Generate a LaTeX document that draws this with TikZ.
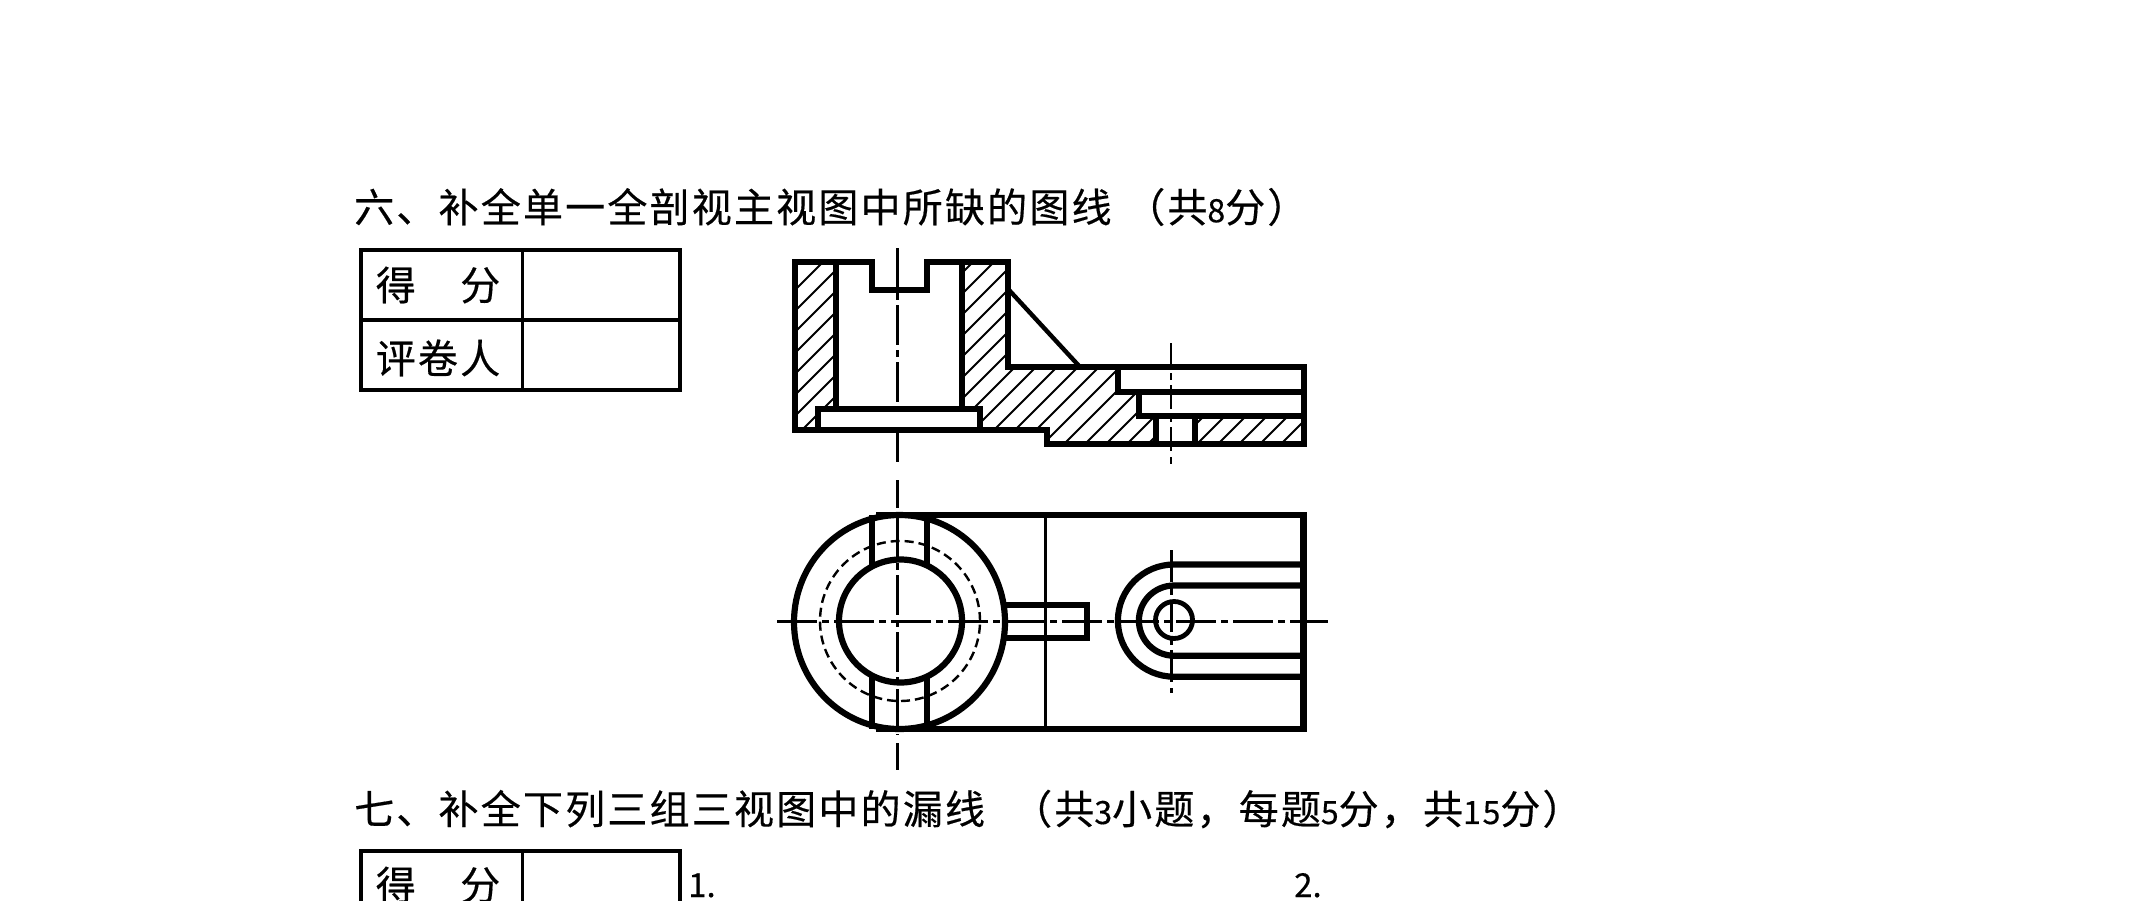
\documentclass[tikz,border=0pt]{standalone}
\usepackage{fontspec}
\newfontfamily\cjkt[LetterSpace=5.5,FakeBold=0.4]{Noto Sans CJK SC}
\newfontfamily\cjkn[FakeBold=0.4]{Noto Sans CJK SC}
\newcommand{\dgt}[1]{{\fontsize{32}{48}\selectfont #1}}
\tikzset{
  thick line/.style={line width=6.2pt,line join=miter,line cap=butt},
  mid line/.style={line width=3.4pt},
  hatch line/.style={line width=2pt},
  center line/.style={line width=2.8pt,dash pattern=on 40pt off 5pt on 7pt off 5pt},
  hidden line/.style={line width=2.4pt,dash pattern=on 9pt off 5pt},
  title text/.style={anchor=west,inner sep=0pt,font=\cjkt\fontsize{40}{48}\selectfont},
  cell text/.style={anchor=center,inner sep=0pt,font=\cjkt\fontsize{40}{48}\selectfont},
  num text/.style={anchor=base west,inner sep=0pt,font=\cjkn\fontsize{33}{40}\selectfont}
}
\begin{document}
\begin{tikzpicture}[x=1pt,y=-1pt]
\clip (0,0) rectangle (2149,900);
\fill[white] (0,0) rectangle (2149,900);

% titles
\node[title text] (t6) at (354,207) {六、补全单一全剖视主视图中所缺的图线 \hspace{2.5pt}（共\dgt{8}分）};
\node[title text] (t7) at (354,809) {七、补全下列三组三视图中的漏线 \hspace{16pt}（共\dgt{3}小题，每题\dgt{5}分，共\dgt{15}分）};

% score tables
\draw[mid line] (361,250) rectangle (680,390);
\draw[mid line] (361,320) -- (680,320);
\draw[mid line] (522.5,250) -- (522.5,390);
\node[cell text] (s1) at (438,285) {得　分};
\node[cell text] (r1) at (438,358) {评卷人};
\draw[mid line] (361,851) rectangle (680,960);
\draw[mid line] (522.5,851) -- (522.5,960);
\node[cell text] (s2) at (438,885) {得　分};
\node[num text] (n1) at (688,897) {1.};
\node[num text] (n2) at (1294,897) {2.};

% hatching of the section
\begin{scope}
\clip (795,262) -- (836,262) -- (836,409) -- (818,409) -- (818,430) -- (795,430) -- cycle;
\foreach \k in {0,...,14} \draw[hatch line] ({640+21*\k},445) -- ++(200,-200);
\end{scope}
\begin{scope}
\clip (962,262) -- (1008,262) -- (1008,367) -- (1118,367) -- (1118,392) -- (1139,392) -- (1139,416) -- (1156,416) -- (1156,444) -- (1047,444) -- (1047,430) -- (980,430) -- (980,409) -- (962,409) -- cycle;
\foreach \k in {0,...,20} \draw[hatch line] ({769+21*\k},445) -- ++(200,-200);
\end{scope}
\begin{scope}
\clip (1195,416) rectangle (1304,444);
\foreach \k in {0,...,7} \draw[hatch line] ({1175+21*\k},445) -- ++(40,-40);
\end{scope}

% front view
\draw[thick line] (795,262.3) -- (872,262.3) -- (872,290) -- (927,290) -- (927,262.3) -- (1008,262.3) -- (1008,367.3) -- (1303.8,367.3) -- (1303.8,444) -- (1047,444) -- (1047,430) -- (795,430) -- cycle;
\draw[thick line] (836,262.3) -- (836,409.3);
\draw[thick line] (962.3,262.3) -- (962.3,409.3);
\draw[thick line] (818,430) -- (818,409.3) -- (980,409.3) -- (980,430);
\draw[thick line] (1118,367.3) -- (1118,391.7) -- (1139,391.7) -- (1139,416) -- (1156,416) -- (1156,444);
\draw[thick line] (1118,391.7) -- (1303.8,391.7);
\draw[thick line] (1139,416) -- (1303.8,416);
\draw[thick line] (1195,416) -- (1195,444);
\draw[line width=4.4pt] (1009,290) -- (1080,367);

% top view
\draw[thick line] (899.5,622) circle [x radius=105.5pt,y radius=107pt];
\draw[thick line] (900.5,621) circle [radius=61.5pt];
\draw[hidden line] (900,621) circle [radius=80pt];
\draw[thick line] (876,515) -- (1303.5,515) -- (1303.5,729.3) -- (876,729.3);
\draw[thick line] (871.7,515) -- (871.7,566);
\draw[thick line] (927.2,515) -- (927.2,566);
\draw[thick line] (871.7,676) -- (871.7,729.3);
\draw[thick line] (927.2,676) -- (927.2,729.3);
\draw[line width=3pt] (1045,515) -- (1045,729.3);
\draw[thick line] (1006,605) -- (1087,605) -- (1087,638.3) -- (1006,638.3);
% slot
\draw[thick line] (1303.5,564.5) -- (1174,564.5) arc[start angle=90,end angle=270,radius=56.1pt] -- (1303.5,676.7);
\draw[thick line] (1303.5,585.5) -- (1174,585.5) arc[start angle=90,end angle=270,radius=35.1pt] -- (1303.5,655.7);
\draw[line width=4.8pt] (1174,620) circle [radius=18.5pt];

% centre lines
\draw[center line] (777,621.7) -- (1328,621.7);
\draw[center line,dash phase=-3pt] (897.7,245) -- (897.7,402);
\draw[line width=2.8pt] (897.7,430) -- (897.7,462) (897.7,480) -- (897.7,508);
\draw[center line] (897.7,518) -- (897.7,735);
\draw[line width=2.8pt] (897.7,743) -- (897.7,770);
\draw[center line,dash pattern=on 24pt off 6pt on 7pt off 5pt] (1171,343) -- (1171,465);
\draw[center line,dash pattern=on 32pt off 6pt on 7pt off 5pt] (1171.3,550) -- (1171.3,693);
\end{tikzpicture}
\end{document}
